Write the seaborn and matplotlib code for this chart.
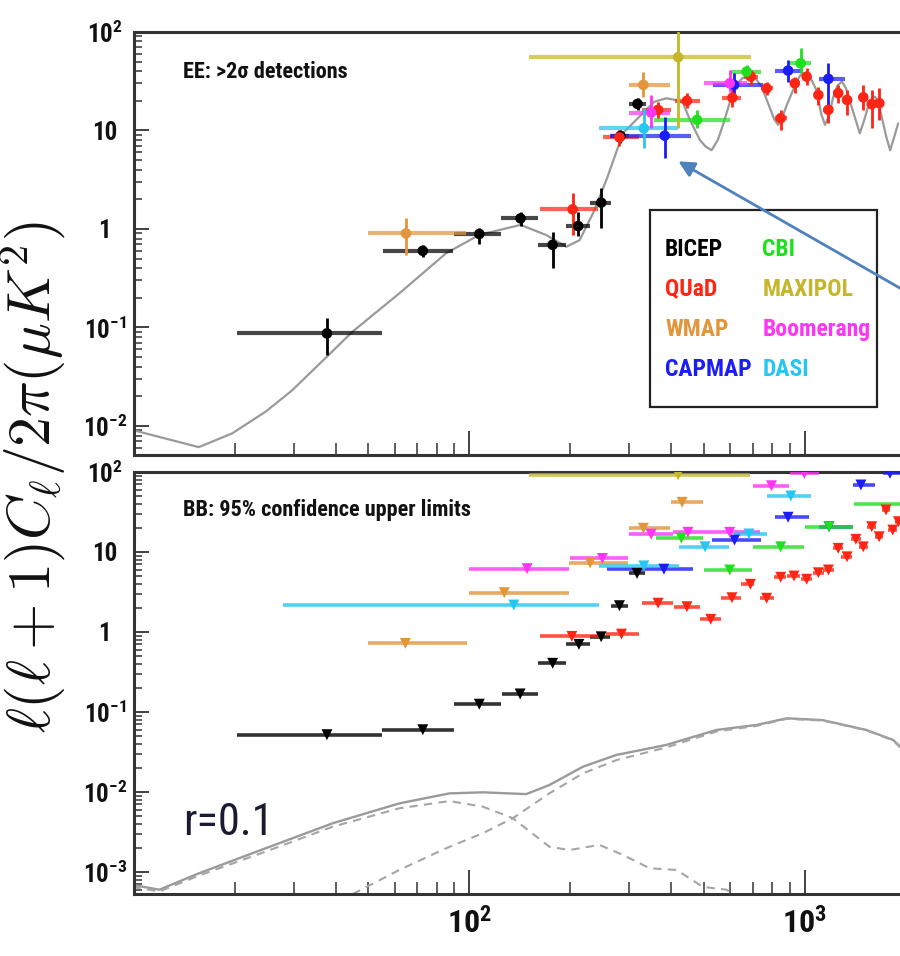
import numpy as np
import pandas as pd
import matplotlib
matplotlib.use("Agg")
import matplotlib.pyplot as plt
import seaborn as sns
from matplotlib.lines import Line2D
from matplotlib.patches import Rectangle, FancyArrowPatch
from matplotlib.ticker import LogLocator, NullFormatter
from matplotlib import font_manager as fm

# ------------------------------------------------------------------ data
EXPERIMENTS = ["BICEP", "QUaD", "WMAP", "CAPMAP", "CBI", "MAXIPOL", "Boomerang", "DASI"]
COLORS = {"BICEP": "#000000", "QUaD": "#ff2413", "WMAP": "#e3953a", "CAPMAP": "#1c1cf5",
          "CBI": "#1fe01f", "MAXIPOL": "#c4b72a", "Boomerang": "#ff34f5", "DASI": "#25c6f2"}

# EE detections: bin centre, bin edges, band power, error-bar ends (uK^2)
EE_BICEP = dict(l=[37.6, 72.6, 107, 142, 177, 211, 247, 282, 317],
                lmin=[20.3, 55.4, 90, 124.6, 159.6, 194, 229, 265, 298.5],
                lmax=[55, 89.6, 124.6, 159.6, 193.6, 228, 265, 300, 335],
                val=[0.087, 0.60, 0.89, 1.28, 0.69, 1.07, 1.85, 8.8, 18.6],
                lo=[0.053, 0.52, 0.70, 1.07, 0.40, 0.84, 1.02, 7.4, 16.2],
                hi=[0.125, 0.69, 1.02, 1.49, 0.93, 1.50, 2.6, 10.1, 21.4])
EE_QUAD = dict(l=[203, 280, 365, 445, 608, 690, 769, 847, 933, 1012, 1097, 1175, 1257, 1336, 1493, 1582, 1667],
               lmin=[162.6, 250, 328, 409, 568, 658, 738, 813, 902, 977, 1064, 1130, 1209, 1297, 1449, 1541, 1628],
               lmax=[241.7, 320, 400, 486, 647, 724, 805, 885, 966, 1045, 1130, 1209, 1297, 1374, 1541, 1628, 1710],
               val=[1.58, 8.5, 16.2, 20, 21.5, 35.2, 26.8, 13.3, 30.1, 35.2, 22.9, 16.2, 23.9, 20.4, 21.7, 18.5, 18.9],
               lo=[0.87, 7.0, 13.3, 16.9, 17.5, 29, 22.9, 10.1, 23.9, 29, 18.1, 11.9, 18.9, 14.4, 16.2, 10.6, 12.8],
               hi=[2.3, 10.2, 19.6, 24, 27.8, 41, 31.3, 16.2, 35.2, 43, 27.8, 19, 29, 25.8, 29, 25.8, 27])
EE_WMAP = dict(l=[64.7, 330], lmin=[50, 298], lmax=[97.8, 397], val=[0.90, 29], lo=[0.54, 22], hi=[1.29, 39.5])
EE_CAPMAP = dict(l=[382, 615, 891, 1175], lmin=[262, 532, 813, 1104], lmax=[459, 751, 988, 1316],
                 val=[8.85, 29, 40.5, 33.4], lo=[5.2, 22.9, 31.3, 18.1], hi=[13.8, 38.4, 52, 48])
EE_CBI = dict(l=[477, 670, 971], lmin=[356, 604, 902], lmax=[597, 742, 1045],
              val=[12.8, 39.5, 48], lo=[10.5, 33.9, 38], hi=[16.2, 46, 68])
EE_MAXIPOL = dict(l=[419], lmin=[150], lmax=[693], val=[55.4], lo=[10.5], hi=[200])
EE_BOOMERANG = dict(l=[348, 597], lmin=[298.5, 502], lmax=[397, 670], val=[15.2, 30.1], lo=[10.5, 24.8], hi=[22.9, 41])
EE_DASI = dict(l=[331], lmin=[244], lmax=[419], val=[10.5], lo=[6.6], hi=[16.8])

# BB 95% upper limits: bin centre, bin edges, limit (uK^2)
BB_BICEP = dict(l=[37.6, 72.6, 107, 141.6, 177, 212, 247, 280, 316],
                lmin=[20.3, 55, 90, 124.8, 159.6, 194, 229, 265, 300],
                lmax=[55, 89.8, 124.4, 159.6, 194, 229, 263, 297, 333],
                val=[0.052, 0.060, 0.125, 0.168, 0.406, 0.70, 0.87, 2.13, 5.4])
BB_QUAD = dict(l=[202, 284, 365, 445, 524, 606, 688, 769, 847, 928, 1012, 1097, 1175, 1257, 1336, 1419,
                  1493, 1582, 1665, 1745, 1828, 1900],
               lmin=[162.6, 256, 326, 406, 486, 564, 645, 733, 810, 885, 975, 1055, 1130, 1210, 1285, 1370,
                     1445, 1535, 1615, 1695, 1775, 1850],
               lmax=[245, 321, 405, 486, 564, 645, 705, 808, 880, 970, 1050, 1140, 1220, 1300, 1385, 1470,
                     1545, 1630, 1715, 1795, 1880, 1950],
               val=[0.88, 0.94, 2.29, 2.07, 1.44, 2.68, 3.95, 2.64, 4.83, 5.0, 4.56, 5.5, 5.96, 11.1, 8.7,
                    14.4, 11.6, 20.7, 15.5, 33.5, 18.8, 23.9])
BB_WMAP = dict(l=[64.4, 127, 229, 330, 430.5], lmin=[49.8, 99.5, 198, 299, 400],
               lmax=[98.2, 197.6, 297, 397, 497], val=[0.72, 3.1, 7.3, 19.8, 41.8])
BB_CAPMAP = dict(l=[380, 617, 891, 1180, 1469, 1793], lmin=[257, 528, 813, 1104, 1395, 1710],
                 lmax=[464, 741, 1030, 1390, 1620, 2000], val=[6.1, 14.1, 27.2, 20.7, 68.8, 96])
BB_CBI = dict(l=[428, 597, 847, 1180, 2000], lmin=[359, 499, 700, 1000, 1400],
              lmax=[497, 697, 993, 1390, 2600], val=[14.9, 5.96, 11.6, 20.7, 39.8])
BB_MAXIPOL = dict(l=[419], lmin=[150], lmax=[688], val=[92])
BB_BOOMERANG = dict(l=[148.6, 249, 348, 448, 597, 795, 996], lmin=[100, 199, 300, 405, 497, 700, 900],
                    lmax=[197.6, 297, 405, 497, 733, 897, 1100], val=[6.2, 8.3, 16.7, 17.6, 17.6, 67.3, 96])
BB_DASI = dict(l=[135.6, 331, 504, 681, 908], lmin=[27.9, 244, 421, 615, 771],
               lmax=[242.6, 420, 594, 769, 1045], val=[2.17, 6.7, 11.6, 16.8, 50.1])

# theory curves
EE_MODEL_L = [9.9, 15.6, 19.6, 24.7, 29.6, 37.6, 44.8, 61.8, 85.2, 107, 142, 169, 194.5, 213, 233.5, 256,
              287, 329, 355, 386, 415, 433.6, 454, 486.5, 505, 527, 550, 570, 611, 645, 677, 712, 743, 787,
              810, 832, 855, 883, 945, 970, 1000, 1040, 1082, 1120, 1148, 1180, 1212, 1250, 1289, 1325,
              1363, 1420, 1458, 1500, 1548, 1585, 1618, 1655, 1689, 1750, 1795, 1845, 1897]
EE_MODEL_V = [0.0091, 0.0061, 0.0084, 0.014, 0.023, 0.0506, 0.0906, 0.222, 0.567, 0.87, 1.10, 0.87, 0.66,
              0.77, 1.44, 3.14, 9.4, 15.0, 19.5, 21.2, 20.3, 18.9, 12.8, 8.0, 6.9, 6.3, 8.0, 11.4, 24.8,
              33.0, 36.7, 34.0, 27.8, 16.8, 13.0, 11.4, 13.5, 18.1, 31.3, 36.5, 38.1, 34.0, 25.8, 14.5,
              11.4, 14.0, 21.2, 28.5, 31.3, 27.0, 19.6, 12.5, 9.35, 12.5, 18.1, 21.3, 22.0, 19.5, 14.4,
              8.5, 6.3, 8.5, 11.8]
BB_TOTAL_L = [9.9, 11.9, 15.6, 24.7, 39.1, 61.8, 87.2, 109.6, 147.6, 173, 218, 274, 386, 545, 718, 883,
              1131, 1524, 1833, 1923]
BB_TOTAL_V = [6.9e-4, 6.0e-4, 9.6e-4, 1.98e-3, 4.06e-3, 7.2e-3, 9.6e-3, 9.9e-3, 9.4e-3, 0.0122, 0.0207,
              0.029, 0.0387, 0.0596, 0.0688, 0.0834, 0.079, 0.0596, 0.0447, 0.0368]
BB_TENSOR_L = [9.9, 11.9, 15.6, 24.7, 39.1, 61.8, 87.2, 109.6, 134.7, 173, 198.5, 244, 287, 345, 414, 497,
               584, 610]
BB_TENSOR_V = [6.5e-4, 5.7e-4, 9.0e-4, 1.8e-3, 3.68e-3, 6.25e-3, 7.7e-3, 6.55e-3, 4.7e-3, 2.07e-3, 1.88e-3,
               2.18e-3, 1.63e-3, 1.11e-3, 1.06e-3, 6.5e-4, 6.0e-4, 5.3e-4]
BB_LENS_L = [44.9, 61.8, 85.2, 109.6, 134.7, 173, 218, 274, 386, 545, 718, 883, 1131, 1524, 1833, 1923]
BB_LENS_V = [5.3e-4, 1.06e-3, 1.98e-3, 3.05e-3, 4.7e-3, 9.6e-3, 0.0171, 0.025, 0.036, 0.057, 0.067, 0.082,
             0.078, 0.059, 0.044, 0.036]

Y_TICKS_TOP = [1e-2, 1e-1, 1, 10, 100]
Y_LABELS_TOP = [r"$\mathregular{10^{-2}}$", r"$\mathregular{10^{-1}}$", "1", "10", r"$\mathregular{10^{2}}$"]
Y_TICKS_BOT = [1e-3, 1e-2, 1e-1, 1, 10, 100]
Y_LABELS_BOT = [r"$\mathregular{10^{-3}}$", r"$\mathregular{10^{-2}}$", r"$\mathregular{10^{-1}}$", "1", "10",
                r"$\mathregular{10^{2}}$"]
X_TICKS = [100, 1000]
X_LABELS = [r"$\mathregular{10^{2}}$", r"$\mathregular{10^{3}}$"]

EE_DATA = {"BICEP": EE_BICEP, "QUaD": EE_QUAD, "WMAP": EE_WMAP, "CAPMAP": EE_CAPMAP, "CBI": EE_CBI,
           "MAXIPOL": EE_MAXIPOL, "Boomerang": EE_BOOMERANG, "DASI": EE_DASI}
BB_DATA = {"BICEP": BB_BICEP, "QUaD": BB_QUAD, "WMAP": BB_WMAP, "CAPMAP": BB_CAPMAP, "CBI": BB_CBI,
           "MAXIPOL": BB_MAXIPOL, "Boomerang": BB_BOOMERANG, "DASI": BB_DASI}

# ------------------------------------------------------------------ fonts (prefer a narrow sans)
sns.set_theme(style="white")
plt.rcParams["font.family"] = ["Liberation Sans", "DejaVu Sans"]
plt.rcParams["axes.edgecolor"] = "#333333"


def _weight(f):
    w = f.weight
    if isinstance(w, str):
        w = fm.weight_dict.get(w, 400)
    return int(w)


def _find_narrow(bold):
    pref = ["Liberation Sans Narrow", "Liberation Sans", "Roboto Condensed", "Roboto", "Open Sans Condensed",
            "Open Sans", "Noto Sans Condensed", "Noto Sans", "DejaVu Sans Condensed", "DejaVu Sans",
            "Lato", "Inter"]
    cands = []
    for f in fm.fontManager.ttflist:
        st = str(f.stretch).lower()
        narrow = ("condensed" in st) or ("narrow" in f.name.lower()) or ("condensed" in f.name.lower()) \
            or ("narrow" in f.fname.lower()) or ("condensed" in f.fname.lower())
        if not narrow or f.style != "normal" or "semi" in st or "semi" in f.fname.lower():
            continue
        if "CJK" in f.name or "Mono" in f.name:
            continue
        w = _weight(f)
        if bold and w < 600:
            continue
        if not bold and (w < 350 or w > 500):
            continue
        rank = len(pref)
        for i, p in enumerate(pref):
            if f.name.startswith(p):
                rank = i
                break
        cands.append((rank, abs(w - (700 if bold else 400)), f.fname))
    if not cands:
        return None
    cands.sort()
    return cands[0][2]


_nb = _find_narrow(True)
_nr = _find_narrow(False)
SCALE = 1.0 if _nb else 0.86


def fprop(size, bold=True):
    path = _nb if bold else _nr
    if path:
        fp = fm.FontProperties(fname=path)
    else:
        fp = fm.FontProperties(family=["Liberation Sans", "DejaVu Sans"], weight="bold" if bold else "normal")
    fp.set_size(size * SCALE)
    return fp


# ------------------------------------------------------------------ figure
fig = plt.figure(figsize=(9.0, 9.56), dpi=100)
ax_top = fig.add_axes([0.1489, 0.5241, 0.8511, 0.4425])
ax_bot = fig.add_axes([0.1489, 0.0649, 0.8511, 0.4414])

XMIN, XMAX = 10, 1921
for ax in (ax_top, ax_bot):
    ax.set_xscale("log")
    ax.set_yscale("log")
    ax.set_xlim(XMIN, XMAX)
    ax.set_facecolor("white")
    for s in ("top", "bottom", "left"):
        ax.spines[s].set_linewidth(2.2)
        ax.spines[s].set_color("#333333")
    ax.spines["right"].set_visible(False)
ax_top.set_ylim(0.00508, 100)
ax_bot.set_ylim(5.31e-4, 100)

# ------------------------------------------------------------------ top: EE
sns.lineplot(x=EE_MODEL_L, y=EE_MODEL_V, ax=ax_top, color="#9a9a9a", lw=1.6, sort=False,
             estimator=None, zorder=2)
for name in EXPERIMENTS:
    d = EE_DATA[name]
    c = COLORS[name]
    l = np.array(d["l"]); v = np.array(d["val"])
    ax_top.errorbar(l, v, xerr=[l - np.array(d["lmin"]), np.array(d["lmax"]) - l], fmt="none",
                    ecolor=c, elinewidth=3.0, alpha=0.72, capsize=0, zorder=3)
    ax_top.errorbar(l, v, yerr=[v - np.array(d["lo"]), np.array(d["hi"]) - v], fmt="none",
                    ecolor=c, elinewidth=2.0, capsize=0, zorder=4)
    sns.scatterplot(x=l, y=v, ax=ax_top, color=c, marker="o", s=58, edgecolor="none",
                    zorder=5, legend=False)

# ------------------------------------------------------------------ bottom: BB
sns.lineplot(x=BB_TOTAL_L, y=BB_TOTAL_V, ax=ax_bot, color="#9a9a9a", lw=1.7, sort=False,
             estimator=None, zorder=2)
sns.lineplot(x=BB_TENSOR_L, y=BB_TENSOR_V, ax=ax_bot, color="#a5a5a5", lw=1.5, sort=False,
             estimator=None, zorder=2, linestyle=(0, (4, 3)))
sns.lineplot(x=BB_LENS_L, y=BB_LENS_V, ax=ax_bot, color="#a5a5a5", lw=1.5, sort=False,
             estimator=None, zorder=2, linestyle=(0, (4, 3)))
for name in EXPERIMENTS:
    d = BB_DATA[name]
    c = COLORS[name]
    l = np.array(d["l"]); v = np.array(d["val"])
    ax_bot.errorbar(l, v, xerr=[l - np.array(d["lmin"]), np.array(d["lmax"]) - l], fmt="none",
                    ecolor=c, elinewidth=2.6, alpha=0.8, capsize=0, zorder=3)
    sns.scatterplot(x=l, y=v, ax=ax_bot, color=c, marker="v", s=62, edgecolor="none",
                    zorder=5, legend=False)

# ------------------------------------------------------------------ ticks
for ax, yt, yl in ((ax_top, Y_TICKS_TOP, Y_LABELS_TOP), (ax_bot, Y_TICKS_BOT, Y_LABELS_BOT)):
    ax.set_yticks(yt, labels=yl, ha="center", color="#111111")
    for lab in ax.get_yticklabels():
        lab.set_fontproperties(fprop(18))
    ax.yaxis.set_minor_locator(LogLocator(base=10, subs=np.arange(2, 10), numticks=30))
    ax.yaxis.set_minor_formatter(NullFormatter())
    ax.xaxis.set_minor_locator(LogLocator(base=10, subs=np.arange(2, 10), numticks=30))
    ax.xaxis.set_minor_formatter(NullFormatter())
    ax.tick_params(axis="y", which="major", direction="in", length=11, width=1.3, color="#333333",
                   left=True, right=False, pad=21)
    ax.tick_params(axis="y", which="minor", direction="in", length=6, width=1.1, color="#333333",
                   left=True, right=False)
    ax.tick_params(axis="x", which="major", direction="in", length=17, width=1.3, color="#333333",
                   bottom=True, top=False)
    ax.tick_params(axis="x", which="minor", direction="in", length=9, width=1.1, color="#333333",
                   bottom=True, top=False)
    ax.set_xlabel("")
    ax.set_ylabel("")

ax_top.set_xticks(X_TICKS, labels=["", ""])
ax_bot.set_xticks(X_TICKS, labels=X_LABELS, color="#111111")
for lab in ax_bot.get_xticklabels():
    lab.set_fontproperties(fprop(23))
ax_bot.tick_params(axis="x", which="major", pad=9)
ax_top.set_xlim(XMIN, XMAX)
ax_bot.set_xlim(XMIN, XMAX)

# ------------------------------------------------------------------ texts
ax_top.text(0.064, 0.905, "EE: >2σ detections", transform=ax_top.transAxes, fontproperties=fprop(16),
            va="center", ha="left", color="#111111")
ax_bot.text(0.064, 0.91, "BB: 95% confidence upper limits", transform=ax_bot.transAxes,
            fontproperties=fprop(16), va="center", ha="left", color="#111111")
ax_bot.text(0.064, 0.168, "r=0.1", transform=ax_bot.transAxes, fontproperties=fprop(32, bold=False),
            va="center", ha="left", color="#1a1a33")

fig.text(0.037, 1 - 477 / 956, r"$\ell(\ell+1)C_\ell/2\pi(\mu K^2)$", rotation=90, ha="center",
         va="center", fontsize=43, math_fontfamily="cm", color="#111111")

# legend: coloured names only, inside a separately drawn frame
ax_top.add_patch(Rectangle((0.6736, 0.1135), 0.2963, 0.4657, transform=ax_top.transAxes,
                           facecolor="white", edgecolor="#222222", lw=1.6, zorder=6))
handles = [Line2D([], [], linestyle="none", marker=None) for _ in EXPERIMENTS]
leg = ax_top.legend(handles, EXPERIMENTS, ncol=2, loc="upper left",
                    bbox_to_anchor=(0.6932, 0.514), handlelength=0, handletextpad=0,
                    columnspacing=0.45, labelspacing=0.72, borderpad=0.0, borderaxespad=0.0,
                    frameon=False, prop=fprop(17))
leg.set_zorder(7)
for txt, name in zip(leg.get_texts(), EXPERIMENTS):
    txt.set_color(COLORS[name])

# arrow pointing at the CAPMAP detection
fig.add_artist(FancyArrowPatch(
    posA=(905 / 900, 1 - 291 / 956), posB=(676 / 900, 1 - 160 / 956), transform=fig.transFigure,
    arrowstyle="-|>", mutation_scale=24, color="#4f81bd", lw=2.0))

fig.savefig("out.png", dpi=100, facecolor="white")
